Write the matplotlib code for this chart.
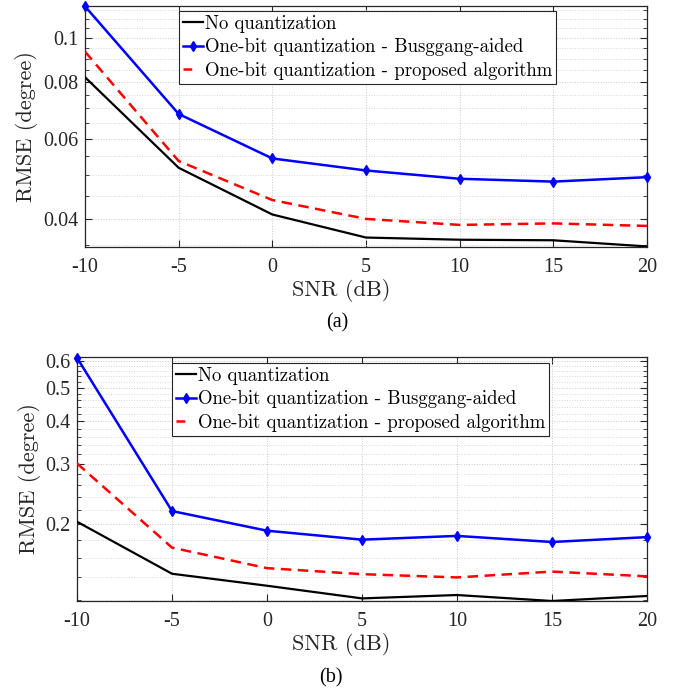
import numpy as np
import matplotlib
matplotlib.use("Agg")
import matplotlib.pyplot as plt
from matplotlib.ticker import FixedLocator, FixedFormatter, NullFormatter

snr = [-10, -5, 0, 5, 10, 15, 20]
xtick_labels = ['-10', '-5', '0', '5', '10', '15', '20']

# panel (a)
a_noq = [0.0819, 0.0518, 0.0409, 0.0364, 0.0360, 0.0359, 0.0348]
a_bussgang = [0.1172, 0.0680, 0.0543, 0.0511, 0.0490, 0.0483, 0.0494]
a_proposed = [0.0932, 0.0536, 0.0440, 0.0400, 0.0388, 0.0391, 0.0386]
a_yticks = [0.04, 0.06, 0.08, 0.1]
a_ytick_labels = ['0.04', '0.06', '0.08', '0.1']

# panel (b)
b_noq = [0.2035, 0.1435, 0.1324, 0.1216, 0.1244, 0.1195, 0.1236]
b_bussgang = [0.612, 0.2186, 0.1916, 0.1804, 0.1850, 0.1776, 0.1835]
b_proposed = [0.301, 0.171, 0.149, 0.1431, 0.1400, 0.1456, 0.1410]
b_yticks = [0.2, 0.3, 0.4, 0.5, 0.6]
b_ytick_labels = ['0.2', '0.3', '0.4', '0.5', '0.6']

legend_labels = ['No quantization',
                 'One-bit quantization - Busggang-aided',
                 'One-bit quantization - proposed algorithm']

W, H = 674, 693
fig = plt.figure(figsize=(W / 100, H / 100), dpi=100)

def px_axes(l, t, r, b):
    return fig.add_axes([l / W, 1 - b / H, (r - l) / W, (b - t) / H])

label_font = 'cmr10'
tick_font = 'Liberation Serif'

def style(ax, noq, bus, prop, ylim, yticks, yticklabels, minors, leg_anchor):
    ax.set_yscale('log')
    ax.plot(snr, noq, color='black', lw=1.6, label=legend_labels[0], zorder=3)
    ax.plot(snr, bus, color='#0000ff', lw=1.8, marker='d', ms=5,
            label=legend_labels[1], zorder=3, clip_on=False)
    ax.plot(snr, prop, color='#ff0000', lw=1.8, dashes=(4.2, 2.6),
            label=legend_labels[2], zorder=3)
    ax.set_xlim(-10, 20)
    ax.set_ylim(*ylim)
    ax.xaxis.set_major_locator(FixedLocator(snr))
    ax.xaxis.set_major_formatter(FixedFormatter(xtick_labels))
    ax.yaxis.set_major_locator(FixedLocator(yticks))
    ax.yaxis.set_major_formatter(FixedFormatter(yticklabels))
    ax.yaxis.set_minor_locator(FixedLocator(minors))
    ax.yaxis.set_minor_formatter(NullFormatter())
    ax.tick_params(which='both', direction='in', top=True, right=True,
                   color='#262626')
    ax.tick_params(which='major', length=5, width=0.8)
    ax.tick_params(which='minor', length=3, width=0.6)
    ax.tick_params(axis='x', pad=8)
    ax.tick_params(axis='y', pad=5)
    for lab in ax.get_xticklabels() + ax.get_yticklabels():
        lab.set_fontfamily(tick_font)
        lab.set_fontsize(14.5)
        lab.set_color('#262626')
    ax.grid(True, which='major', ls=':', lw=0.7, color='#c8c8c8')
    ax.grid(True, which='minor', axis='y', ls=':', lw=0.7, color='#d8d8d8')
    ax.set_axisbelow(True)
    for s in ax.spines.values():
        s.set_color('#262626')
        s.set_linewidth(0.9)
    ax.set_ylabel('RMSE (degree)', fontfamily=label_font, fontsize=16,
                  color='#262626', labelpad=4)
    leg = ax.legend(loc='upper left', bbox_to_anchor=leg_anchor,
                    prop={'family': label_font, 'size': 13.5},
                    handlelength=1.1, handletextpad=0.1, borderpad=0.2,
                    labelspacing=0.3, borderaxespad=0.0, fancybox=False,
                    framealpha=1, edgecolor='#262626')
    leg.get_frame().set_linewidth(0.8)
    leg.get_lines()[2].set_dashes((3.5, 20))
    return ax

ax1 = px_axes(85, 6, 647, 247)
style(ax1, a_noq, a_bussgang, a_proposed, (0.0347, 0.1174), a_yticks,
      a_ytick_labels, np.arange(0.035, 0.1175, 0.005),
      ((179 - 85) / 562, 1 - (11 - 6) / 241))
ax1.yaxis.set_label_coords(-0.084, 0.5)

ax2 = px_axes(77, 357, 647, 601)
style(ax2, b_noq, b_bussgang, b_proposed, (0.1195, 0.615), b_yticks,
      b_ytick_labels, np.arange(0.12, 0.62, 0.02),
      ((172 - 77) / 570, 1 - (363 - 357) / 244))
ax2.yaxis.set_label_coords(-0.064, 0.5)

fig.text(341 / W, 1 - 290 / H, 'SNR (dB)', ha='center', va='center',
         fontfamily=label_font, fontsize=16, color='#262626')
fig.text(337 / W, 1 - 323 / H, '(a)', ha='center', va='center',
         fontfamily=tick_font, fontsize=14.5, color='black')
fig.text(341 / W, 1 - 644 / H, 'SNR (dB)', ha='center', va='center',
         fontfamily=label_font, fontsize=16, color='#262626')
fig.text(331 / W, 1 - 678 / H, '(b)', ha='center', va='center',
         fontfamily=tick_font, fontsize=14.5, color='black')

fig.savefig('out.png', dpi=100, facecolor='white')
